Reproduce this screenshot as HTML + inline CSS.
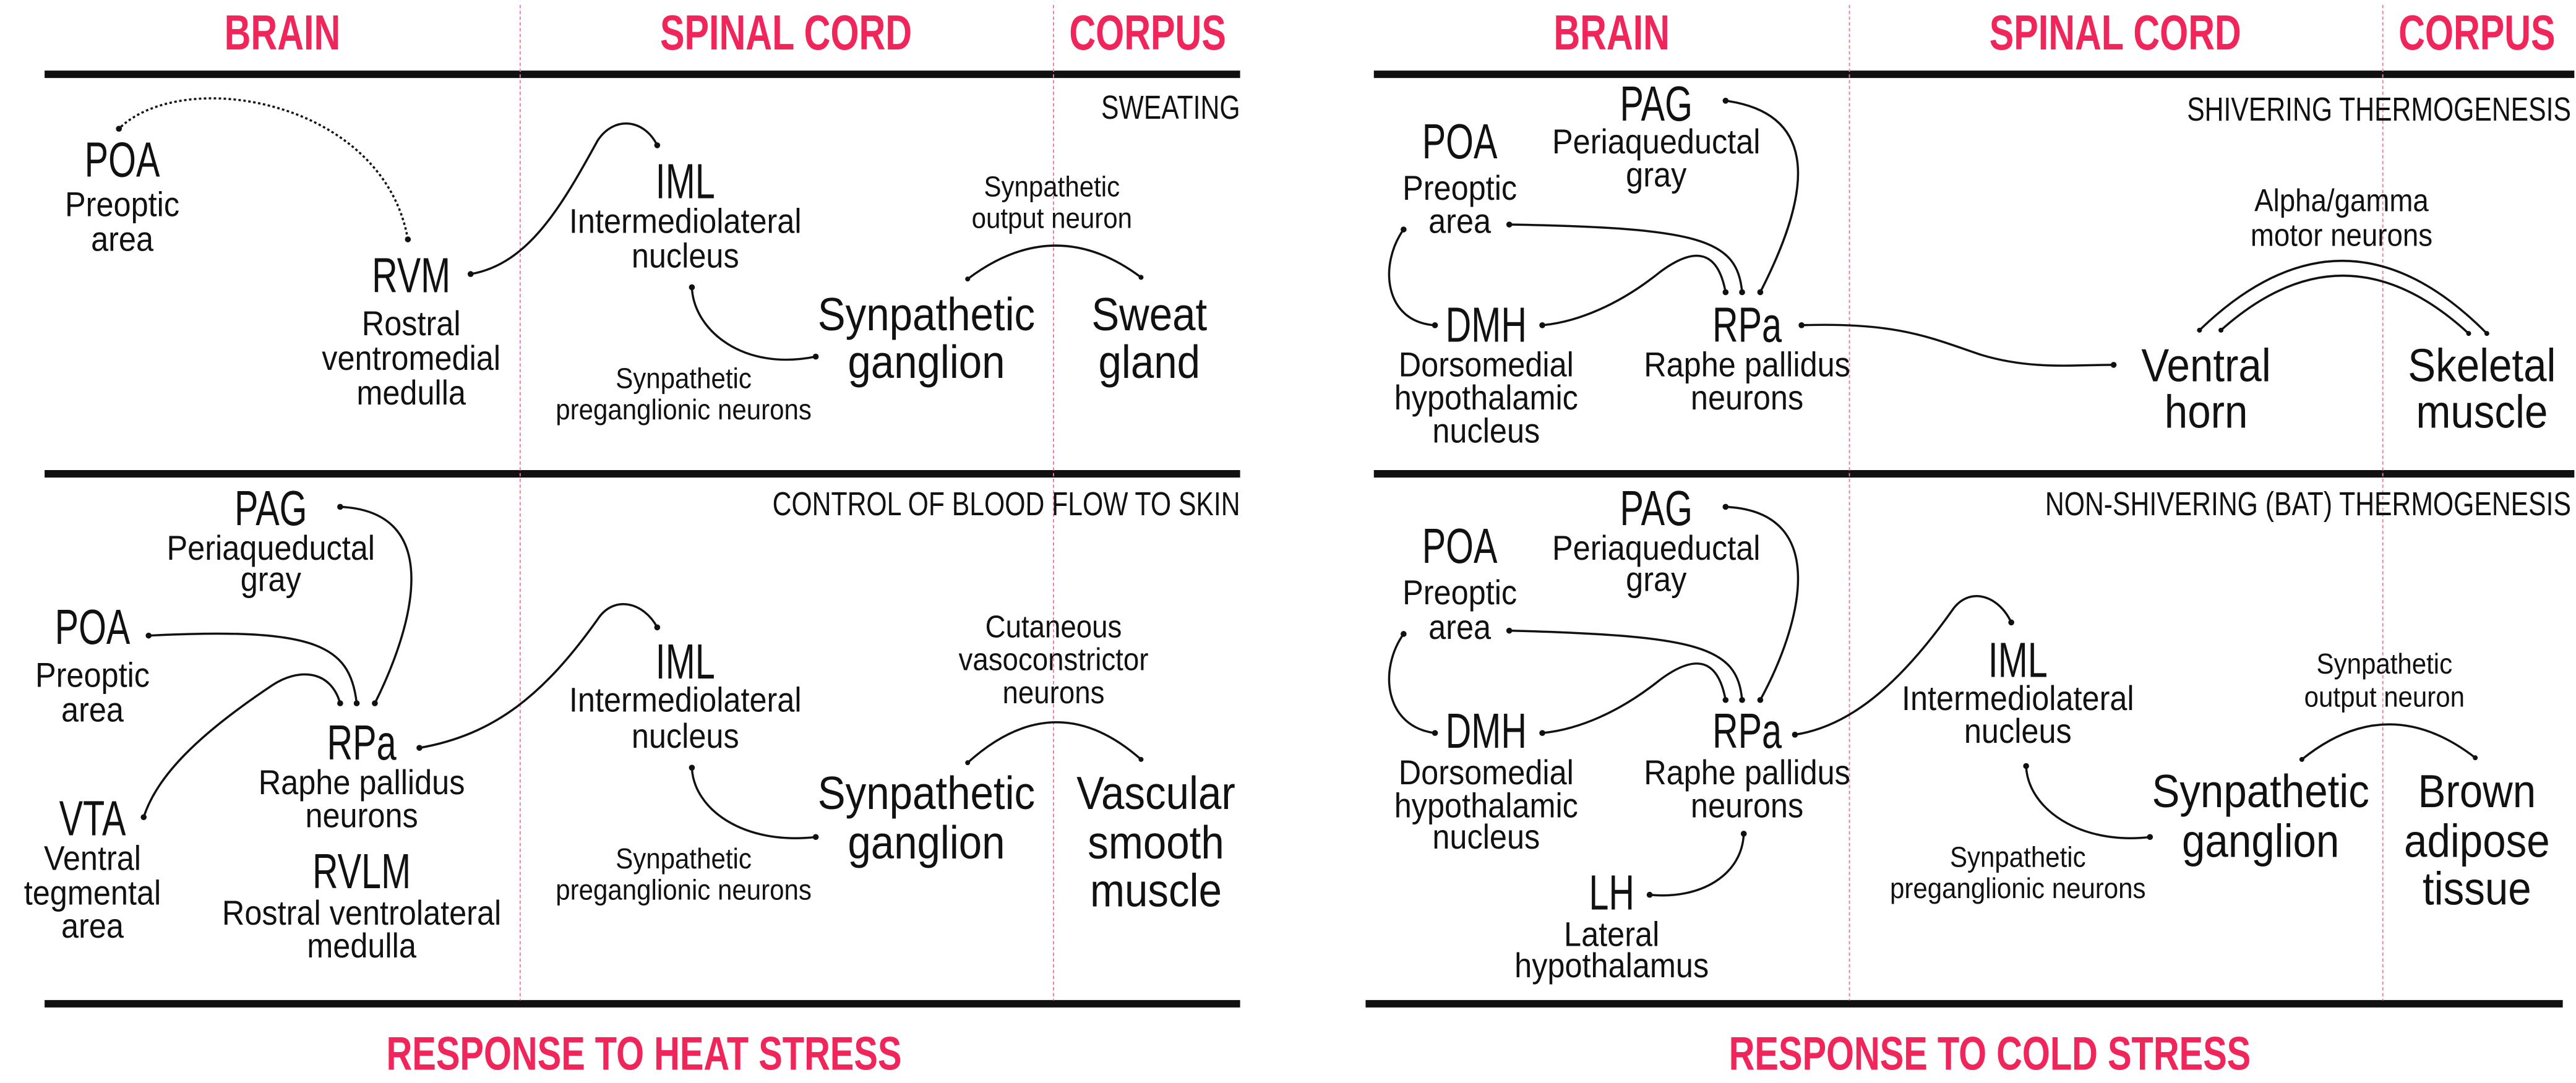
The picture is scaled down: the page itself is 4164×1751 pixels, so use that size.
<!DOCTYPE html>
<html><head><meta charset="utf-8"><style>
html,body{margin:0;padding:0;background:#fff}
svg{display:block}
text{font-family:"Liberation Sans",sans-serif;fill:#111;text-anchor:middle}
.h{font-weight:bold;fill:#f0265a;font-size:30px}
.n{font-size:30px}
.s{font-size:21px}
.t{font-size:17.5px}
.b{font-size:28px}
.u{font-size:20px;text-anchor:end}
.c{fill:none;stroke:#111;stroke-width:1.3}
.r{stroke:#111;stroke-width:4.5}
.v{stroke:#f07a95;stroke-width:0.7;stroke-dasharray:2 1.5}
</style></head><body>
<svg width="4164" height="1751" viewBox="0 0 1560 656" xmlns="http://www.w3.org/2000/svg">
<rect width="1560" height="656" fill="#fff"/>
<!-- rules -->
<line class="r" x1="27" y1="45" x2="751" y2="45"/>
<line class="r" x1="27" y1="287" x2="751" y2="287"/>
<line class="r" x1="27" y1="608" x2="751" y2="608"/>
<line class="r" x1="832" y1="45" x2="1559" y2="45"/>
<line class="r" x1="832" y1="287" x2="1559" y2="287"/>
<line class="r" x1="827" y1="608" x2="1552" y2="608"/>
<line class="v" x1="315" y1="3" x2="315" y2="606"/>
<line class="v" x1="638" y1="3" x2="638" y2="606"/>
<line class="v" x1="1120" y1="3" x2="1120" y2="606"/>
<line class="v" x1="1443" y1="3" x2="1443" y2="606"/>
<!-- headers -->
<text class="h" transform="translate(171 30) scale(.74 1)">BRAIN</text>
<text class="h" transform="translate(476 30) scale(.74 1)">SPINAL CORD</text>
<text class="h" transform="translate(695 30) scale(.74 1)">CORPUS</text>
<text class="h" transform="translate(976 30) scale(.74 1)">BRAIN</text>
<text class="h" transform="translate(1281 30) scale(.74 1)">SPINAL CORD</text>
<text class="h" transform="translate(1500 30) scale(.74 1)">CORPUS</text>
<text class="h" style="font-size:28.5px" transform="translate(390 648) scale(.76 1)">RESPONSE TO HEAT STRESS</text>
<text class="h" style="font-size:28.5px" transform="translate(1205 648) scale(.76 1)">RESPONSE TO COLD STRESS</text>

<!-- Panel 1: sweating -->
<text class="u" transform="translate(751 72) scale(.8 1)">SWEATING</text>
<text class="n" transform="translate(74 107) scale(.72 1)">POA</text>
<text class="s" transform="translate(74 131) scale(.9 1)">Preoptic</text>
<text class="s" transform="translate(74 152) scale(.9 1)">area</text>
<text class="n" transform="translate(249 177) scale(.72 1)">RVM</text>
<text class="s" transform="translate(249 203) scale(.9 1)">Rostral</text>
<text class="s" transform="translate(249 224) scale(.9 1)">ventromedial</text>
<text class="s" transform="translate(249 245) scale(.9 1)">medulla</text>
<text class="n" transform="translate(415 120) scale(.72 1)">IML</text>
<text class="s" transform="translate(415 141) scale(.9 1)">Intermediolateral</text>
<text class="s" transform="translate(415 162) scale(.9 1)">nucleus</text>
<text class="t" transform="translate(637 119) scale(.9 1)">Synpathetic</text>
<text class="t" transform="translate(637 138) scale(.9 1)">output neuron</text>
<text class="b" transform="translate(561 200) scale(.9 1)">Synpathetic</text>
<text class="b" transform="translate(561 229) scale(.9 1)">ganglion</text>
<text class="b" transform="translate(696 200) scale(.9 1)">Sweat</text>
<text class="b" transform="translate(696 229) scale(.9 1)">gland</text>
<text class="t" transform="translate(414 235) scale(.9 1)">Synpathetic</text>
<text class="t" transform="translate(414 254) scale(.9 1)">preganglionic neurons</text>
<path class="c" style="stroke-dasharray:1.5 1.5" d="M247,145 C232,60 110,40 72,78"/>
<path class="c" d="M398,88 C390,72 372,70 362,85 C340,125 320,160 285,166"/>
<path class="c" d="M419,174 C420,200 450,225 494,216"/>
<path class="c" d="M586,169 Q639,129 691,168"/>
<g fill="#111">
<circle cx="247" cy="145" r="1.8"/><circle cx="72" cy="78" r="1.8"/>
<circle cx="398" cy="88" r="1.8"/><circle cx="285" cy="166" r="1.8"/>
<circle cx="419" cy="174" r="1.8"/><circle cx="494" cy="216" r="1.8"/>
<circle cx="586" cy="169" r="1.5"/><circle cx="691" cy="168" r="1.5"/>
</g>

<!-- Panel 2: blood flow -->
<text class="u" transform="translate(751 312) scale(.8 1)">CONTROL OF BLOOD FLOW TO SKIN</text>
<text class="n" transform="translate(164 318) scale(.72 1)">PAG</text>
<text class="s" transform="translate(164 339) scale(.9 1)">Periaqueductal</text>
<text class="s" transform="translate(164 358) scale(.9 1)">gray</text>
<text class="n" transform="translate(56 390) scale(.72 1)">POA</text>
<text class="s" transform="translate(56 416) scale(.9 1)">Preoptic</text>
<text class="s" transform="translate(56 437) scale(.9 1)">area</text>
<text class="n" transform="translate(56 506) scale(.72 1)">VTA</text>
<text class="s" transform="translate(56 527) scale(.9 1)">Ventral</text>
<text class="s" transform="translate(56 548) scale(.9 1)">tegmental</text>
<text class="s" transform="translate(56 568) scale(.9 1)">area</text>
<text class="n" transform="translate(219 460) scale(.72 1)">RPa</text>
<text class="s" transform="translate(219 481) scale(.9 1)">Raphe pallidus</text>
<text class="s" transform="translate(219 501) scale(.9 1)">neurons</text>
<text class="n" transform="translate(219 538) scale(.72 1)">RVLM</text>
<text class="s" transform="translate(219 560) scale(.9 1)">Rostral ventrolateral</text>
<text class="s" transform="translate(219 580) scale(.9 1)">medulla</text>
<text class="n" transform="translate(415 411) scale(.72 1)">IML</text>
<text class="s" transform="translate(415 431) scale(.9 1)">Intermediolateral</text>
<text class="s" transform="translate(415 453) scale(.9 1)">nucleus</text>
<text class="s" style="font-size:19px" transform="translate(638 386) scale(.9 1)">Cutaneous</text>
<text class="s" style="font-size:19px" transform="translate(638 406) scale(.9 1)">vasoconstrictor</text>
<text class="s" style="font-size:19px" transform="translate(638 426) scale(.9 1)">neurons</text>
<text class="b" transform="translate(561 490) scale(.9 1)">Synpathetic</text>
<text class="b" transform="translate(561 520) scale(.9 1)">ganglion</text>
<text class="b" transform="translate(700 490) scale(.9 1)">Vascular</text>
<text class="b" transform="translate(700 520) scale(.9 1)">smooth</text>
<text class="b" transform="translate(700 549) scale(.9 1)">muscle</text>
<text class="t" transform="translate(414 526) scale(.9 1)">Synpathetic</text>
<text class="t" transform="translate(414 545) scale(.9 1)">preganglionic neurons</text>
<path class="c" d="M227,426 C250,380 270,310 206,307"/>
<path class="c" d="M216,426 C212,390 190,380 90,385"/>
<path class="c" d="M206,426 C200,405 180,405 165,415 C120,445 95,470 87,495"/>
<path class="c" d="M398,380 C390,365 372,360 362,375 C330,420 300,445 254,453"/>
<path class="c" d="M419,465 C420,490 450,512 494,507"/>
<path class="c" d="M586,462 Q639,414 691,460"/>
<g fill="#111">
<circle cx="227" cy="426" r="1.8"/><circle cx="206" cy="307" r="1.8"/>
<circle cx="216" cy="426" r="1.8"/><circle cx="90" cy="385" r="1.8"/>
<circle cx="206" cy="426" r="1.8"/><circle cx="87" cy="495" r="1.8"/>
<circle cx="398" cy="380" r="1.8"/><circle cx="254" cy="453" r="1.8"/>
<circle cx="419" cy="465" r="1.8"/><circle cx="494" cy="507" r="1.8"/>
<circle cx="586" cy="462" r="1.5"/><circle cx="691" cy="460" r="1.5"/>
</g>

<!-- Panel 3: shivering -->
<text class="u" transform="translate(1557 73) scale(.8 1)">SHIVERING THERMOGENESIS</text>
<text class="n" transform="translate(1003 73) scale(.72 1)">PAG</text>
<text class="s" transform="translate(1003 93) scale(.9 1)">Periaqueductal</text>
<text class="s" transform="translate(1003 113) scale(.9 1)">gray</text>
<text class="n" transform="translate(884 96) scale(.72 1)">POA</text>
<text class="s" transform="translate(884 121) scale(.9 1)">Preoptic</text>
<text class="s" transform="translate(884 141) scale(.9 1)">area</text>
<text class="n" transform="translate(900 207) scale(.72 1)">DMH</text>
<text class="s" transform="translate(900 228) scale(.9 1)">Dorsomedial</text>
<text class="s" transform="translate(900 248) scale(.9 1)">hypothalamic</text>
<text class="s" transform="translate(900 268) scale(.9 1)">nucleus</text>
<text class="n" transform="translate(1058 207) scale(.72 1)">RPa</text>
<text class="s" transform="translate(1058 228) scale(.9 1)">Raphe pallidus</text>
<text class="s" transform="translate(1058 248) scale(.9 1)">neurons</text>
<text class="s" style="font-size:19px" transform="translate(1418 128) scale(.9 1)">Alpha/gamma</text>
<text class="s" style="font-size:19px" transform="translate(1418 149) scale(.9 1)">motor neurons</text>
<text class="b" transform="translate(1336 231) scale(.9 1)">Ventral</text>
<text class="b" transform="translate(1336 259) scale(.9 1)">horn</text>
<text class="b" transform="translate(1503 231) scale(.9 1)">Skeletal</text>
<text class="b" transform="translate(1503 259) scale(.9 1)">muscle</text>
<path class="c" d="M1066,177 C1090,130 1110,70 1045,61"/>
<path class="c" d="M1055,177 C1052,145 1030,138 914,136"/>
<path class="c" d="M1045,177 C1040,150 1025,150 1005,165 C980,185 955,195 934,197"/>
<path class="c" d="M850,139 C835,160 838,195 869,197"/>
<path class="c" d="M1091,197 C1150,195 1170,205 1200,215 C1230,224 1255,221 1280,221"/>
<path class="c" d="M1332,200 Q1420,115 1506,202"/>
<path class="c" d="M1345,200 Q1420,133 1495,202"/>
<g fill="#111">
<circle cx="1066" cy="177" r="1.8"/><circle cx="1045" cy="61" r="1.8"/>
<circle cx="1055" cy="177" r="1.8"/><circle cx="914" cy="136" r="1.8"/>
<circle cx="1045" cy="177" r="1.8"/><circle cx="934" cy="197" r="1.8"/>
<circle cx="850" cy="139" r="1.8"/><circle cx="869" cy="197" r="1.8"/>
<circle cx="1091" cy="197" r="1.8"/><circle cx="1280" cy="221" r="1.8"/>
<circle cx="1332" cy="200" r="1.5"/><circle cx="1506" cy="202" r="1.5"/>
<circle cx="1345" cy="200" r="1.5"/><circle cx="1495" cy="202" r="1.5"/>
</g>

<!-- Panel 4: BAT -->
<text class="u" transform="translate(1557 312) scale(.8 1)">NON-SHIVERING (BAT) THERMOGENESIS</text>
<text class="n" transform="translate(1003 318) scale(.72 1)">PAG</text>
<text class="s" transform="translate(1003 339) scale(.9 1)">Periaqueductal</text>
<text class="s" transform="translate(1003 358) scale(.9 1)">gray</text>
<text class="n" transform="translate(884 341) scale(.72 1)">POA</text>
<text class="s" transform="translate(884 366) scale(.9 1)">Preoptic</text>
<text class="s" transform="translate(884 387) scale(.9 1)">area</text>
<text class="n" transform="translate(900 453) scale(.72 1)">DMH</text>
<text class="s" transform="translate(900 475) scale(.9 1)">Dorsomedial</text>
<text class="s" transform="translate(900 495) scale(.9 1)">hypothalamic</text>
<text class="s" transform="translate(900 514) scale(.9 1)">nucleus</text>
<text class="n" transform="translate(1058 453) scale(.72 1)">RPa</text>
<text class="s" transform="translate(1058 475) scale(.9 1)">Raphe pallidus</text>
<text class="s" transform="translate(1058 495) scale(.9 1)">neurons</text>
<text class="n" transform="translate(976 551) scale(.72 1)">LH</text>
<text class="s" transform="translate(976 573) scale(.9 1)">Lateral</text>
<text class="s" transform="translate(976 592) scale(.9 1)">hypothalamus</text>
<text class="n" transform="translate(1222 410) scale(.72 1)">IML</text>
<text class="s" transform="translate(1222 430) scale(.9 1)">Intermediolateral</text>
<text class="s" transform="translate(1222 450) scale(.9 1)">nucleus</text>
<text class="t" transform="translate(1444 408) scale(.9 1)">Synpathetic</text>
<text class="t" transform="translate(1444 428) scale(.9 1)">output neuron</text>
<text class="b" transform="translate(1369 489) scale(.9 1)">Synpathetic</text>
<text class="b" transform="translate(1369 519) scale(.9 1)">ganglion</text>
<text class="b" transform="translate(1500 489) scale(.9 1)">Brown</text>
<text class="b" transform="translate(1500 519) scale(.9 1)">adipose</text>
<text class="b" transform="translate(1500 548) scale(.9 1)">tissue</text>
<text class="t" transform="translate(1222 525) scale(.9 1)">Synpathetic</text>
<text class="t" transform="translate(1222 544) scale(.9 1)">preganglionic neurons</text>
<path class="c" d="M1066,424 C1090,380 1110,310 1045,307"/>
<path class="c" d="M1055,424 C1052,392 1030,385 914,382"/>
<path class="c" d="M1045,424 C1040,397 1025,397 1005,412 C980,432 955,442 934,444"/>
<path class="c" d="M850,384 C835,405 838,440 869,444"/>
<path class="c" d="M1056,505 C1055,530 1030,545 999,542"/>
<path class="c" d="M1218,377 C1210,360 1192,355 1182,370 C1150,415 1120,440 1087,445"/>
<path class="c" d="M1227,464 C1228,490 1260,512 1302,507"/>
<path class="c" d="M1394,460 Q1446,418 1499,459"/>
<g fill="#111">
<circle cx="1066" cy="424" r="1.8"/><circle cx="1045" cy="307" r="1.8"/>
<circle cx="1055" cy="424" r="1.8"/><circle cx="914" cy="382" r="1.8"/>
<circle cx="1045" cy="424" r="1.8"/><circle cx="934" cy="444" r="1.8"/>
<circle cx="850" cy="384" r="1.8"/><circle cx="869" cy="444" r="1.8"/>
<circle cx="1056" cy="505" r="1.8"/><circle cx="999" cy="542" r="1.8"/>
<circle cx="1218" cy="377" r="1.8"/><circle cx="1087" cy="445" r="1.8"/>
<circle cx="1227" cy="464" r="1.8"/><circle cx="1302" cy="507" r="1.8"/>
<circle cx="1394" cy="460" r="1.5"/><circle cx="1499" cy="459" r="1.5"/>
</g>
</svg>
</body></html>
